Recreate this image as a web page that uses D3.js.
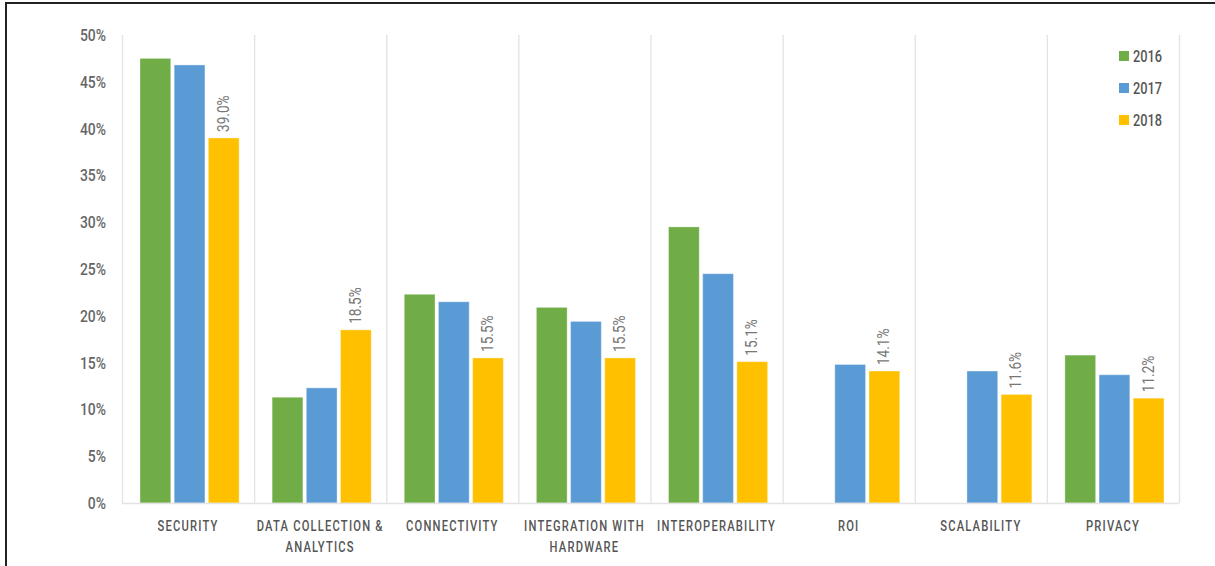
<!DOCTYPE html>
<html>
<head>
<meta charset="utf-8">
<script src="https://cdn.jsdelivr.net/npm/d3@7"></script>
<style>
  html, body { margin: 0; padding: 0; background: #fff; }
  svg { display: block; }
  text { font-family: Roboto, "Noto Sans", sans-serif; }
</style>
</head>
<body>
<div id="chart"></div>
<script>
const width = 1215;
const height = 566;

// data
const categories = ["SECURITY", "DATA COLLECTION & ANALYTICS", "CONNECTIVITY", "INTEGRATION WITH HARDWARE",
  "INTEROPERABILITY", "ROI", "SCALABILITY", "PRIVACY"];
const catLines = [["SECURITY"], ["DATA COLLECTION &", "ANALYTICS"], ["CONNECTIVITY"], ["INTEGRATION WITH", "HARDWARE"],
  ["INTEROPERABILITY"], ["ROI"], ["SCALABILITY"], ["PRIVACY"]];
const years = ["2016", "2017", "2018"];
const values2016 = [47.5, 11.3, 22.3, 20.9, 29.5, null, null, 15.8];
const values2017 = [46.8, 12.3, 21.5, 19.4, 24.5, 14.8, 14.1, 13.7];
const values2018 = [39.0, 18.5, 15.5, 15.5, 15.1, 14.1, 11.6, 11.2];
const yTicks = [0, 5, 10, 15, 20, 25, 30, 35, 40, 45, 50];
const colors = ["#70ad47", "#5b9bd5", "#ffc000"];

const seriesValues = [values2016, values2017, values2018];

// the original uses a condensed face, squeeze text horizontally
const squeeze = 0.8;

const svg = d3.select("#chart").append("svg")
  .attr("width", width)
  .attr("height", height);

// frame (cropped: only left and top edges visible)
svg.append("path")
  .attr("d", `M6,${height} L6,3 L${width},3`)
  .attr("fill", "none")
  .attr("stroke", "#222")
  .attr("stroke-width", 2);

const plotLeft = 122, plotRight = 1179, plotTop = 35, plotBottom = 503;

const x = d3.scaleBand().domain(categories).range([plotLeft, plotRight]);
const xInner = d3.scaleBand().domain(years).range([18, x.bandwidth() - 15]).paddingInner(0.1);
const y = d3.scaleLinear().domain([0, 50]).range([plotBottom, plotTop]);

// category separators
svg.append("g")
  .selectAll("line")
  .data(categories.concat(["end"]))
  .join("line")
  .attr("x1", (d, i) => plotLeft + i * x.bandwidth() + 0.5)
  .attr("x2", (d, i) => plotLeft + i * x.bandwidth() + 0.5)
  .attr("y1", plotTop)
  .attr("y2", plotBottom)
  .attr("stroke", "#e3e3e3")
  .attr("stroke-width", 1.3);

// y axis labels
svg.append("g")
  .selectAll("text")
  .data(yTicks)
  .join("text")
  .attr("transform", d => `translate(106,${y(d) + 6}) scale(0.82,1)`)
  .attr("text-anchor", "end")
  .attr("fill", "#666")
  .style("font-size", "17px")
  .style("font-weight", "500")
  .text(d => d + "%");

// bars
const groups = svg.append("g")
  .selectAll("g")
  .data(categories)
  .join("g")
  .attr("transform", d => `translate(${x(d)},0)`);

groups.selectAll("rect")
  .data((d, i) => years.map((yr, j) => ({ year: yr, value: seriesValues[j][i], color: colors[j] })))
  .join("rect")
  .filter(d => d.value != null)
  .attr("x", d => xInner(d.year))
  .attr("width", xInner.bandwidth())
  .attr("y", d => y(d.value))
  .attr("height", d => plotBottom - y(d.value))
  .attr("fill", d => d.color)
  .attr("stroke", "#fff")
  .attr("stroke-opacity", 0.35)
  .attr("stroke-width", 1);

// value labels on 2018 bars
groups.append("text")
  .attr("transform", (d, i) => `translate(${xInner("2018") + xInner.bandwidth() / 2 + 5},${y(values2018[i]) - 6}) rotate(-90) scale(0.85,1)`)
  .attr("fill", "#777")
  .style("font-size", "16px")
  .text((d, i) => values2018[i].toFixed(1) + "%");

// bottom axis line
svg.append("line")
  .attr("x1", plotLeft)
  .attr("x2", plotRight)
  .attr("y1", plotBottom + 0.5)
  .attr("y2", plotBottom + 0.5)
  .attr("stroke", "#e3e3e3")
  .attr("stroke-width", 1.5);

// category labels
groups.append("text")
  .attr("transform", `translate(${x.bandwidth() / 2},0) scale(${squeeze},1)`)
  .attr("fill", "#555")
  .attr("text-anchor", "middle")
  .style("font-size", "14px")
  .style("font-weight", "500")
  .style("letter-spacing", "1.5px")
  .selectAll("tspan")
  .data((d, i) => catLines[i])
  .join("tspan")
  .attr("x", 0)
  .attr("y", (d, i) => 531 + i * 21)
  .text(d => d);

// legend
const legend = svg.append("g")
  .selectAll("g")
  .data(years)
  .join("g")
  .attr("transform", (d, i) => `translate(1119,${51 + i * 32})`);

legend.append("rect")
  .attr("width", 10)
  .attr("height", 10)
  .attr("fill", (d, i) => colors[i]);

legend.append("text")
  .attr("transform", "translate(14,11) scale(0.8,1)")
  .attr("fill", "#555")
  .style("font-size", "16px")
  .style("font-weight", "500")
  .text(d => d);
</script>
</body>
</html>
